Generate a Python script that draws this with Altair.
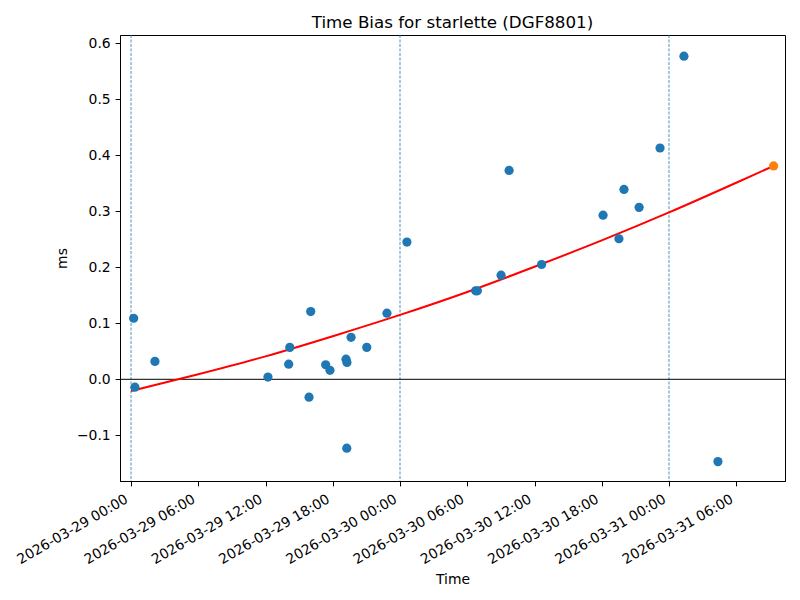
import altair as alt
import pandas as pd

# Observed time-bias samples (UTC)
obs_times = [
    "2026-03-29T00:14:00Z", "2026-03-29T00:21:00Z", "2026-03-29T02:08:00Z",
    "2026-03-29T12:13:00Z", "2026-03-29T14:10:00Z", "2026-03-29T14:04:00Z",
    "2026-03-29T16:02:00Z", "2026-03-29T15:53:00Z", "2026-03-29T17:22:00Z",
    "2026-03-29T17:45:00Z", "2026-03-29T19:11:00Z", "2026-03-29T19:16:00Z",
    "2026-03-29T19:15:00Z", "2026-03-29T19:38:00Z", "2026-03-29T21:02:00Z",
    "2026-03-29T22:50:00Z", "2026-03-30T00:37:00Z", "2026-03-30T06:45:00Z",
    "2026-03-30T06:54:00Z", "2026-03-30T09:01:00Z", "2026-03-30T09:44:00Z",
    "2026-03-30T12:38:00Z", "2026-03-30T18:07:00Z", "2026-03-30T19:32:00Z",
    "2026-03-30T19:59:00Z", "2026-03-30T21:20:00Z", "2026-03-30T23:12:00Z",
    "2026-03-31T01:20:00Z", "2026-03-31T04:22:00Z",
]
obs_ms = [
    0.109, -0.014, 0.032,
    0.004, 0.057, 0.027,
    0.121, -0.032, 0.026,
    0.016, 0.036, 0.030,
    -0.123, 0.075, 0.057,
    0.118, 0.245, 0.158,
    0.158, 0.186, 0.373,
    0.205, 0.293, 0.251,
    0.339, 0.307, 0.413,
    0.577, -0.147,
]

# Fitted trend (red curve)
fit_times = [
    "2026-03-29T00:00:00Z", "2026-03-29T06:00:00Z", "2026-03-29T12:00:00Z",
    "2026-03-29T18:00:00Z", "2026-03-30T00:00:00Z", "2026-03-30T06:00:00Z",
    "2026-03-30T12:00:00Z", "2026-03-30T18:00:00Z", "2026-03-31T00:00:00Z",
    "2026-03-31T06:00:00Z", "2026-03-31T09:20:00Z",
]
fit_ms = [-0.021, 0.009, 0.041, 0.077, 0.115, 0.156, 0.201, 0.248, 0.298, 0.351, 0.381]

# Predicted point (orange)
pred_times = ["2026-03-31T09:20:00Z"]
pred_ms = [0.381]

# Day boundaries (dashed verticals)
day_lines = ["2026-03-29T00:00:00Z", "2026-03-30T00:00:00Z", "2026-03-31T00:00:00Z"]

x_ticks = [
    "2026-03-29T00:00:00Z", "2026-03-29T06:00:00Z", "2026-03-29T12:00:00Z",
    "2026-03-29T18:00:00Z", "2026-03-30T00:00:00Z", "2026-03-30T06:00:00Z",
    "2026-03-30T12:00:00Z", "2026-03-30T18:00:00Z", "2026-03-31T00:00:00Z",
    "2026-03-31T06:00:00Z",
]
y_ticks = [-0.1, 0.0, 0.1, 0.2, 0.3, 0.4, 0.5, 0.6]
x_domain = ["2026-03-28T23:01:00Z", "2026-03-31T10:21:00Z"]
y_domain = [-0.1816, 0.6148]


def ms(s):
    return int(pd.Timestamp(s).value // 10**6)


FONT = "DejaVu Sans"

obs_df = pd.DataFrame({"time": obs_times, "ms": obs_ms})
fit_df = pd.DataFrame({"time": fit_times, "ms": fit_ms})
pred_df = pd.DataFrame({"time": pred_times, "ms": pred_ms})
day_df = pd.DataFrame({"time": day_lines})
zero_df = pd.DataFrame({"ms": [0.0]})

xscale = alt.Scale(type="utc", domain=[ms(d) for d in x_domain])
yscale = alt.Scale(domain=y_domain, nice=False, zero=False)

xaxis = alt.Axis(
    title="Time", values=[ms(t) for t in x_ticks],
    labelExpr="utcFormat(datum.value, '%Y-%m-%d %H:%M')",
    labelAngle=-30, labelAlign="right", labelBaseline="top",
    labelOffset=-8, labelPadding=6, tickSize=4.9, grid=False,
    labelFontSize=13.9, titleFontSize=13.9, titlePadding=6,
    labelFont=FONT, titleFont=FONT, labelColor="black", titleColor="black",
    titleFontWeight="normal", domainColor="black", tickColor="black",
    labelOverlap=False, labelFlush=False,
)
yaxis = alt.Axis(
    title="ms", values=y_ticks, format=".1f", tickSize=4.9, labelPadding=4.9,
    grid=False, labelFontSize=13.9, titleFontSize=13.9, titlePadding=7,
    labelFont=FONT, titleFont=FONT, labelColor="black", titleColor="black",
    titleFontWeight="normal", domainColor="black", tickColor="black",
)

X = alt.X("time:T", scale=xscale, axis=xaxis)
Y = alt.Y("ms:Q", scale=yscale, axis=yaxis)

vlines = alt.Chart(day_df).mark_rule(
    color="#1f77b4", strokeWidth=0.8, strokeDash=[3, 1.5]
).encode(x=X)

zero = alt.Chart(zero_df).mark_rule(color="black", strokeWidth=1).encode(y=Y)

fit = alt.Chart(fit_df).mark_line(color="red", strokeWidth=2, interpolate="monotone").encode(
    x=X, y=Y
)

pts = alt.Chart(obs_df).mark_circle(color="#1f77b4", size=85, opacity=1).encode(x=X, y=Y)

pred = alt.Chart(pred_df).mark_circle(color="#ff7f0e", size=85, opacity=1).encode(x=X, y=Y)

chart = alt.layer(vlines, zero, fit, pts, pred).properties(
    width=665, height=446,
    title=alt.TitleParams(
        "Time Bias for starlette (DGF8801)", font=FONT, fontSize=16.7,
        fontWeight="normal", color="black", anchor="middle", offset=3,
    ),
    autosize=alt.AutoSizeParams(type="none"),
    padding={"left": 112, "top": 27, "right": 7, "bottom": 111},
).configure_view(stroke="black", strokeWidth=1)

chart.save("out.html", embed_options={"renderer": "svg", "actions": False})
